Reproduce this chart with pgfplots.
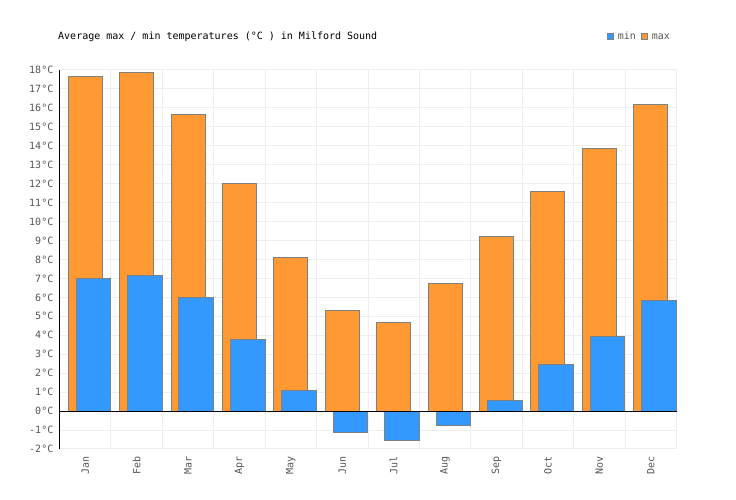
\documentclass[border=0pt]{standalone}
\usepackage{fontspec}
\setmainfont{DejaVu Sans Mono}
\usepackage{pgfplots}
\pgfplotsset{compat=1.18}
\definecolor{maxc}{HTML}{FF9933}
\definecolor{minc}{HTML}{3399FF}
\definecolor{edge}{HTML}{808080}
\definecolor{gridc}{HTML}{EEEEEE}
\definecolor{lab}{HTML}{555555}
\begin{document}
\begin{tikzpicture}[x=1pt,y=1pt]
\path[use as bounding box] (0,0) rectangle (736,500);
\node[anchor=west,inner sep=0pt,font=\fontsize{10}{12}\selectfont] at (58,463) {Average max / min temperatures (°C ) in Milford Sound};
\begin{axis}[at={(59.5pt,51pt)}, anchor=south west, scale only axis,
  width=617pt, height=379pt,
  xmin=-0.5, xmax=11.5, ymin=-2, ymax=18,
  clip=false,
  axis line style={draw=none},
  tick style={draw=none},
  xtick={0,...,11},
  xticklabels={Jan,Feb,Mar,Apr,May,Jun,Jul,Aug,Sep,Oct,Nov,Dec},
  minor xtick={-0.5,0.5,1.5,2.5,3.5,4.5,5.5,6.5,7.5,8.5,9.5,10.5,11.5},
  xminorgrids=true, ymajorgrids=true,
  minor grid style={gridc, line width=1pt},
  major grid style={gridc, line width=1pt},
  x tick label style={yshift=-7pt, rotate=90, anchor=east, font=\fontsize{10}{12}\selectfont, text=lab, inner sep=0pt},
  ytick={-2,...,18},
  yticklabels={-2°C,-1°C,0°C,1°C,2°C,3°C,4°C,5°C,6°C,7°C,8°C,9°C,10°C,11°C,12°C,13°C,14°C,15°C,16°C,17°C,18°C},
  y tick label style={anchor=east, font=\fontsize{10}{12}\selectfont, text=lab, inner sep=0pt, xshift=-6pt},
  reverse legend,
  legend style={at={(0.993,1.089)}, anchor=east, draw=none, fill=none,
    legend columns=2, font=\fontsize{10}{12}\selectfont, text=lab,
    /tikz/every odd column/.append style={column sep=2pt},
    /tikz/every even column/.append style={column sep=3pt},
    inner sep=0pt},
  legend image code/.code={\draw[#1,draw=edge,line width=1pt] (0pt,-3pt) rectangle (6pt,3pt);},
]
\addplot[ybar, bar width=0.66, bar shift=0, fill=maxc, draw=edge, line width=1pt]
  coordinates {(0,17.65) (1,17.88) (2,15.67) (3,12.02) (4,8.11) (5,5.32) (6,4.68) (7,6.74) (8,9.22) (9,11.6) (10,13.87) (11,16.2)};
\addlegendentry{\vphantom{Mx}max}
\addplot[ybar, bar width=0.675, bar shift=0.16, fill=minc, draw=edge, line width=1pt]
  coordinates {(0,7.0) (1,7.16) (2,6.0) (3,3.79) (4,1.09) (5,-1.13) (6,-1.55) (7,-0.76) (8,0.56) (9,2.48) (10,3.96) (11,5.84)};
\addlegendentry{\vphantom{Mx}min}
\draw[black, line width=1pt] (axis cs:-0.5,0) -- (axis cs:11.5,0);
\draw[black, line width=1pt] (axis cs:-0.5,-2) -- (axis cs:-0.5,18);
\end{axis}
\end{tikzpicture}
\end{document}
